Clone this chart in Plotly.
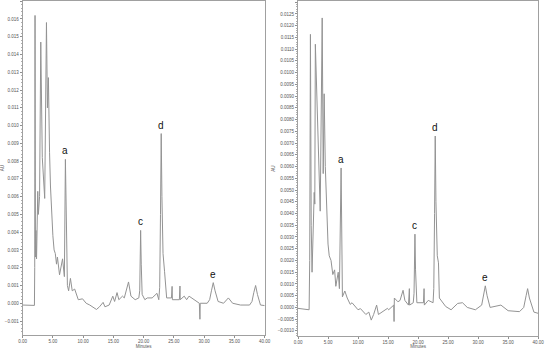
"""Two HPLC chromatograms side by side (AU vs. minutes), peaks a, c, d, e labelled."""

import plotly.graph_objects as go

# ---- Data -------------------------------------------------------------

LEFT_T = [0.0, 1.0, 1.95, 2.0, 2.05, 2.12, 2.2, 2.3, 2.5, 2.6, 2.8, 3.0, 3.25, 3.65,
          3.94, 4.1, 4.26, 4.35, 4.45, 4.6, 4.8, 5.0, 5.2, 5.4, 5.6, 5.75, 6.1, 6.6,
          6.9, 7.07, 7.4, 7.6, 7.9, 8.2, 8.6, 9.2, 9.9, 10.5, 11.1, 11.6, 12.2, 12.7,
          13.3, 13.6, 14.3, 14.9, 15.2, 15.6, 15.9, 16.5, 16.8, 17.5, 17.9, 18.6,
          19.2, 19.35, 19.42, 19.5, 19.6, 19.75, 20.2, 20.6, 21.4, 22.2, 22.5, 22.65,
          22.78, 22.9, 23.02, 23.2, 23.45, 23.6, 23.8, 24.6, 24.7, 24.75, 25.9, 26.0,
          26.05, 26.7, 27.1, 27.5, 28.3, 29.2, 29.3, 29.35, 30.5, 30.9, 31.2, 31.5,
          31.8, 32.3, 33.2, 34.0, 34.7, 36.0, 37.5, 37.9, 38.2, 38.5, 38.8, 39.3, 40.0]
LEFT_AU = [-0.0001, -0.00012, -0.00012, 0.0020, 0.0162, 0.0026, 0.0041, 0.0025,
           0.0063, 0.0050, 0.0060, 0.0147, 0.0082, 0.0059, 0.0158, 0.0110, 0.0127,
           0.0094, 0.0085, 0.0066, 0.0050, 0.0038, 0.0030, 0.0028, 0.0022, 0.0026,
           0.0016, 0.0025, 0.0015, 0.0081, 0.0010, 0.0007, 0.0014, 0.0007, 0.0008,
           0.0002, 0.00025, 0.0, -0.0001, -0.0002, -0.00035, -0.0002, 0.00005,
           -0.0002, -0.0001, 0.0004, 0.0001, 0.0006, 0.0002, 0.0004, 0.0003, 0.0012,
           0.0004, 0.0002, 0.0003, 0.0007, 0.0025, 0.0041, 0.0022, 0.0005, 0.0002,
           0.0003, 0.0003, 0.00056, 0.0002, 0.0009, 0.0050, 0.00955, 0.0060, 0.0028,
           0.0018, 0.0012, 0.0003, 0.0003, 0.00095, 0.0002, 0.0002, 0.00097, 0.0002,
           0.0004, 0.0002, 0.0004, 0.0002, 0.0, -0.0009, 0.0, 0.0, 0.0002, 0.0007,
           0.00116, 0.0007, 0.0001, 0.0, 0.0003, 0.0, -0.0001, -0.0001, 0.0001,
           0.0006, 0.0010, 0.0005, -0.0001, -0.00013]

RIGHT_T = [0.0, 1.0, 1.85, 1.95, 2.07, 2.2, 2.34, 2.5, 2.7, 2.8, 2.89, 3.7, 4.03, 4.2,
           4.36, 4.55, 4.8, 5.0, 5.2, 5.5, 5.8, 6.1, 6.3, 6.7, 6.9, 7.18, 7.4, 7.8,
           8.2, 8.7, 9.0, 10.0, 10.4, 11.3, 11.8, 12.2, 12.6, 13.1, 13.4, 14.0, 14.9,
           15.1, 15.5, 15.95, 16.0, 16.05, 16.65, 17.0, 17.5, 17.8, 18.4, 18.55, 18.6,
           19.2, 19.33, 19.4, 19.48, 19.58, 19.8, 20.9, 21.0, 21.05, 21.7, 22.5,
           22.62, 22.75, 22.86, 22.98, 23.2, 23.4, 23.55, 24.6, 25.5, 26.6, 27.4,
           28.2, 29.55, 30.6, 30.9, 31.2, 31.5, 32.0, 33.8, 35.0, 36.9, 37.6, 38.0,
           38.25, 38.55, 39.3, 40.0]
RIGHT_AU = [-0.00004, -0.00008, -0.0001, 0.0020, 0.01163, 0.0035, 0.0015, 0.0030,
            0.0049, 0.0044, 0.01121, 0.0041, 0.01233, 0.0057, 0.0091, 0.0060, 0.0035,
            0.0027, 0.0022, 0.0020, 0.0014, 0.0016, 0.0009, 0.0015, 0.0008, 0.00594,
            0.00045, 0.0007, 0.0004, 0.00013, 0.0002, -0.0001, -0.00005, -0.0003,
            -0.0002, -0.00054, -0.0003, 0.0001, -0.0003, -0.0002, -0.00004, -0.0001,
            0.0, 0.0001, -0.0006, 0.0004, 0.00024, 0.0003, 0.00073, 0.0003, 0.0001,
            0.0008, 0.0001, 0.0002, 0.0006, 0.0019, 0.00312, 0.0016, 0.0002, 0.0002,
            0.0008, 0.0001, 0.0003, 0.0002, 0.0008, 0.0040, 0.0073, 0.0045, 0.0022,
            0.0019, 0.0004, 0.00004, -0.0001, 0.00017, 0.0002, 0.0, -0.0001, 0.0001,
            0.0005, 0.00092, 0.0005, 0.0, 0.0001, -0.00014, -0.00018, 0.0, 0.0005,
            0.0008, 0.0004, -0.0002, -0.00025]

PEAK_LABELS = ["a", "c", "d", "e"]
LEFT_PEAK_T = [7.07, 19.5, 22.9, 31.5]
RIGHT_PEAK_T = [7.18, 19.48, 22.86, 31.2]

X_TICKS = [0, 5, 10, 15, 20, 25, 30, 35, 40]

# ---- Figure -----------------------------------------------------------

LINE = dict(color="#939393", width=1)
FONT = "Liberation Sans, Arial, sans-serif"

fig = go.Figure()
fig.add_trace(go.Scatter(x=LEFT_T, y=LEFT_AU, mode="lines", line=LINE,
                         xaxis="x", yaxis="y", hoverinfo="skip"))
fig.add_trace(go.Scatter(x=RIGHT_T, y=RIGHT_AU, mode="lines", line=LINE,
                         xaxis="x2", yaxis="y2", hoverinfo="skip"))

# peak letters sit just above each labelled maximum
for times, values, peaks, xr, yr in [(LEFT_T, LEFT_AU, LEFT_PEAK_T, "x", "y"),
                                     (RIGHT_T, RIGHT_AU, RIGHT_PEAK_T, "x2", "y2")]:
    for label, pt in zip(PEAK_LABELS, peaks):
        fig.add_annotation(x=pt, y=values[times.index(pt)], xref=xr, yref=yr,
                           text=label, showarrow=False, yanchor="bottom", yshift=1,
                           font=dict(size=10, color="#111", family=FONT))

axis_common = dict(
    showline=True, linecolor="#a0a0a0", linewidth=1, mirror=True,
    showgrid=False, zeroline=False, ticks="outside", ticklen=2,
    tickcolor="#909090", tickfont=dict(size=4.5, color="#555", family=FONT),
)
x_common = dict(axis_common, range=[0, 40], tickvals=X_TICKS, tickformat=".2f",
                title=dict(text="Minutes", standoff=0,
                           font=dict(size=4.5, color="#555", family=FONT)))
y_title = dict(text="AU", standoff=2, font=dict(size=4.5, color="#555", family=FONT))

fig.update_layout(
    width=550, height=349,
    margin=dict(l=0, r=0, t=0, b=0),
    paper_bgcolor="white", plot_bgcolor="white",
    showlegend=False,
    xaxis=dict(x_common, domain=[0.0327, 0.4818], anchor="y"),
    yaxis=dict(axis_common, domain=[0.0344, 0.997], anchor="x",
               range=[-0.00179, 0.01701], dtick=0.001, tick0=0, tickformat=".3f",
               minor=dict(ticks="outside", ticklen=1, tickcolor="#b0b0b0", nticks=5),
               title=y_title),
    xaxis2=dict(x_common, domain=[0.5436, 0.9891], anchor="y2"),
    yaxis2=dict(axis_common, domain=[0.0315, 0.997], anchor="x2",
                range=[-0.00122, 0.01305], dtick=0.0005, tick0=0, tickformat=".4f",
                minor=dict(ticks="outside", ticklen=1, tickcolor="#b0b0b0", nticks=5),
                title=y_title),
)

# the page body has a default 8px margin; drop it so the figure fills the window
fig.write_html("out.html", config={"displayModeBar": False},
               post_script="document.body.style.margin='0px';")
